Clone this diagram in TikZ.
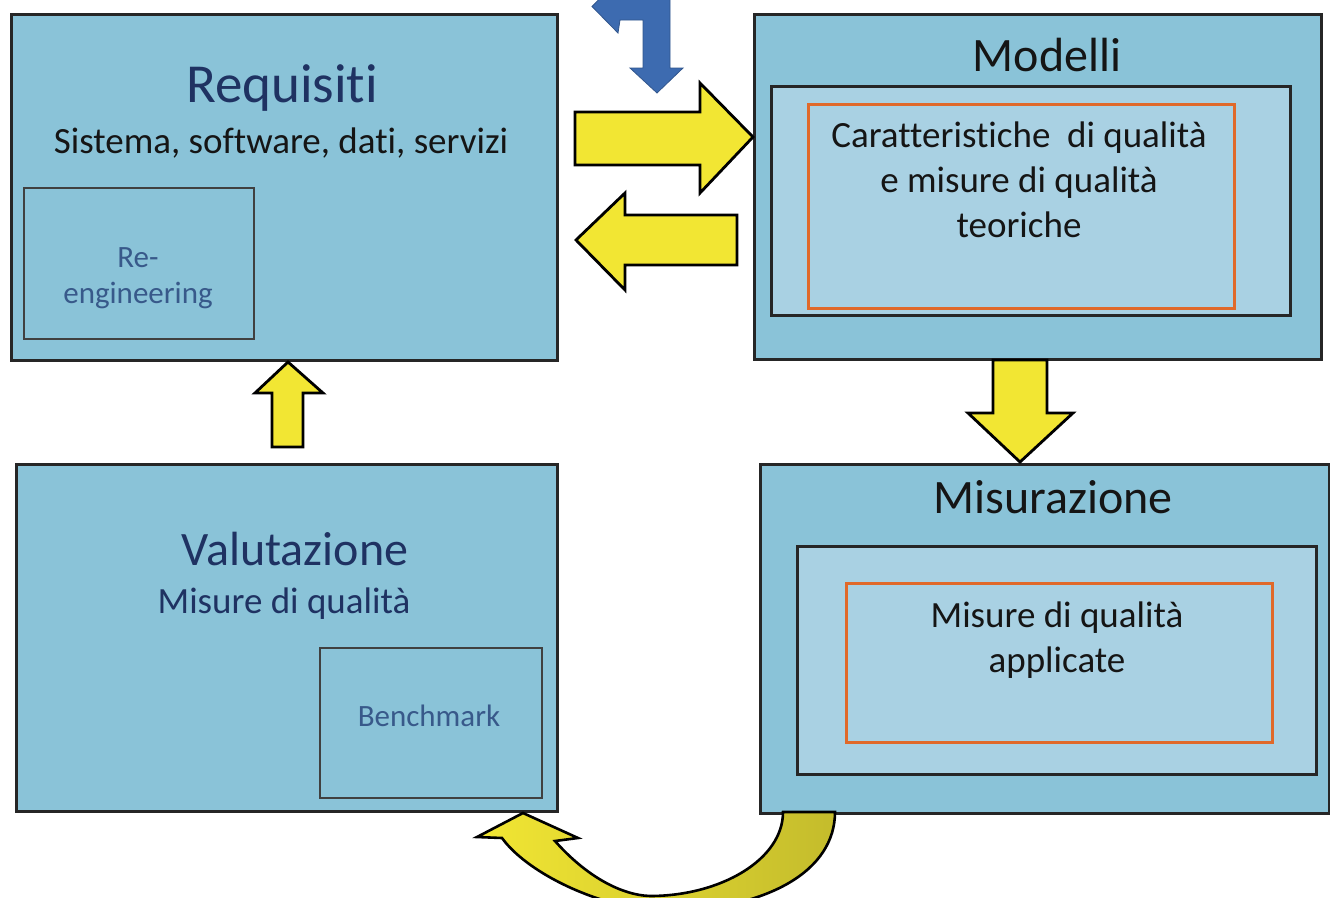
\documentclass[tikz,border=0pt]{standalone}
\usepackage{fontspec}
\setmainfont[Ligatures={NoCommon}]{Carlito}
\definecolor{boxblue}{HTML}{8AC3D8}
\definecolor{innerblue}{HTML}{A9D1E3}
\definecolor{navy}{HTML}{1F3262}
\definecolor{softnavy}{HTML}{38598A}
\definecolor{orangeline}{HTML}{E0692A}
\definecolor{arrowyellow}{HTML}{F2E633}
\definecolor{arrowolive}{HTML}{C4BC2C}
\definecolor{arrowblue}{HTML}{3D6BB0}
\definecolor{textblack}{HTML}{151515}
\tikzset{
  outerbox/.style={draw=black!85, line width=2.8pt, fill=boxblue, anchor=north west, inner sep=0pt},
  innerbox/.style={draw=black!85, line width=3pt, fill=innerblue, anchor=north west, inner sep=0pt},
  orangebox/.style={draw=orangeline, line width=2.6pt, fill=innerblue, anchor=north west, inner sep=0pt},
  smallbox/.style={draw=black!75, line width=1.6pt, fill=boxblue, anchor=north west, inner sep=0pt},
  yarrow/.style={draw=black, line width=2.8pt, fill=arrowyellow, line join=miter},
  barrow/.style={fill=arrowblue, draw=arrowblue!80!black, line width=0.8pt},
  lbl/.style={anchor=base, inner sep=0pt, align=center},
}
\begin{document}
\begin{tikzpicture}[x=1pt, y=-1pt]
\useasboundingbox (0,0) rectangle (1330,897);
\fill[white] (0,0) rectangle (1330,897);

% boxes
\node[outerbox, minimum width=546pt, minimum height=346pt] (req) at (10,13) {};
\node[smallbox, minimum width=230pt, minimum height=151pt] (reeng) at (23,187) {};
\node[lbl, text=navy, font=\fontsize{55}{60}\selectfont] (reqt) at (282,102) {Requisiti};
\node[lbl, text=textblack, font=\fontsize{37}{44}\selectfont] (reqs) at (281,153) {Sistema, software, dati, servizi};
\node[lbl, text=softnavy, font=\fontsize{31}{36}\selectfont] (reengt) at (138,303) {Re-\\engineering};

\node[outerbox, minimum width=567pt, minimum height=345pt] (mod) at (753,13) {};
\node[innerbox, minimum width=519pt, minimum height=229pt] (modin) at (770,85) {};
\node[orangebox, minimum width=426pt, minimum height=204pt] (modor) at (807,103) {};
\node[lbl, text=textblack, font=\fontsize{48}{54}\selectfont] (modt) at (1047,71) {Modelli};
\node[lbl, text=textblack, font=\fontsize{37}{45}\selectfont] (modtx) at (1019,237) {Caratteristiche~ di qualità\\e misure di qualità\\teoriche};

\node[outerbox, minimum width=569pt, minimum height=349pt] (mis) at (759,463) {};
\node[innerbox, minimum width=519pt, minimum height=228pt] (misin) at (796,545) {};
\node[orangebox, minimum width=426pt, minimum height=159pt] (misor) at (845,582) {};
\node[lbl, text=textblack, font=\fontsize{48}{54}\selectfont] (mist) at (1053,513) {Misurazione};
\node[lbl, text=textblack, font=\fontsize{37}{45}\selectfont] (mistx) at (1057,672) {Misure di qualità\\applicate};

\node[outerbox, minimum width=541pt, minimum height=347pt] (val) at (15,463) {};
\node[smallbox, minimum width=222pt, minimum height=150pt] (bench) at (319,647) {};
\node[lbl, text=navy, font=\fontsize{48}{54}\selectfont] (valt) at (295,565) {Valutazione};
\node[lbl, text=navy, font=\fontsize{37}{44}\selectfont] (vals) at (284,613) {Misure di qualità};
\node[lbl, text=softnavy, font=\fontsize{31}{36}\selectfont] (bencht) at (429,726) {Benchmark};

% yellow block arrows
\draw[yarrow] (575,112) -- (700,112) -- (700,83) -- (753,137) -- (700,193) -- (700,165) -- (575,165) -- cycle;
\draw[yarrow] (737,215) -- (625,215) -- (625,193) -- (576,240) -- (625,290) -- (625,265) -- (737,265) -- cycle;
\draw[yarrow] (272,447) -- (272,393) -- (255,393) -- (288,362) -- (323,393) -- (303,393) -- (303,447) -- cycle;
\draw[yarrow] (993,360) -- (993,413) -- (968,413) -- (1020,462) -- (1073,413) -- (1047,413) -- (1047,360) -- cycle;

\begin{scope}
\clip (0,0) rectangle (1330,897);
% blue bent arrow
\draw[barrow] (592,6.5) -- (618,33) -- (620,20) -- (643,20) -- (643,68) -- (630,68) -- (657,93) -- (683,68) -- (670,68) -- (670,-7) -- (620,-7) -- (618,-20) -- cycle;
% curved arrow
\draw[draw=black, line width=2.6pt, left color=arrowyellow, right color=arrowolive, line join=miter]
  (835,812) .. controls (835,870) and (770,910) .. (660,912)
  .. controls (590,905) and (525,870) .. (502,838)
  -- (477,837) -- (523,813) -- (578,838) -- (555,841)
  .. controls (585,875) and (620,895) .. (650,896)
  .. controls (720,896) and (783,860) .. (783,812) -- cycle;
\end{scope}
\end{tikzpicture}
\end{document}
